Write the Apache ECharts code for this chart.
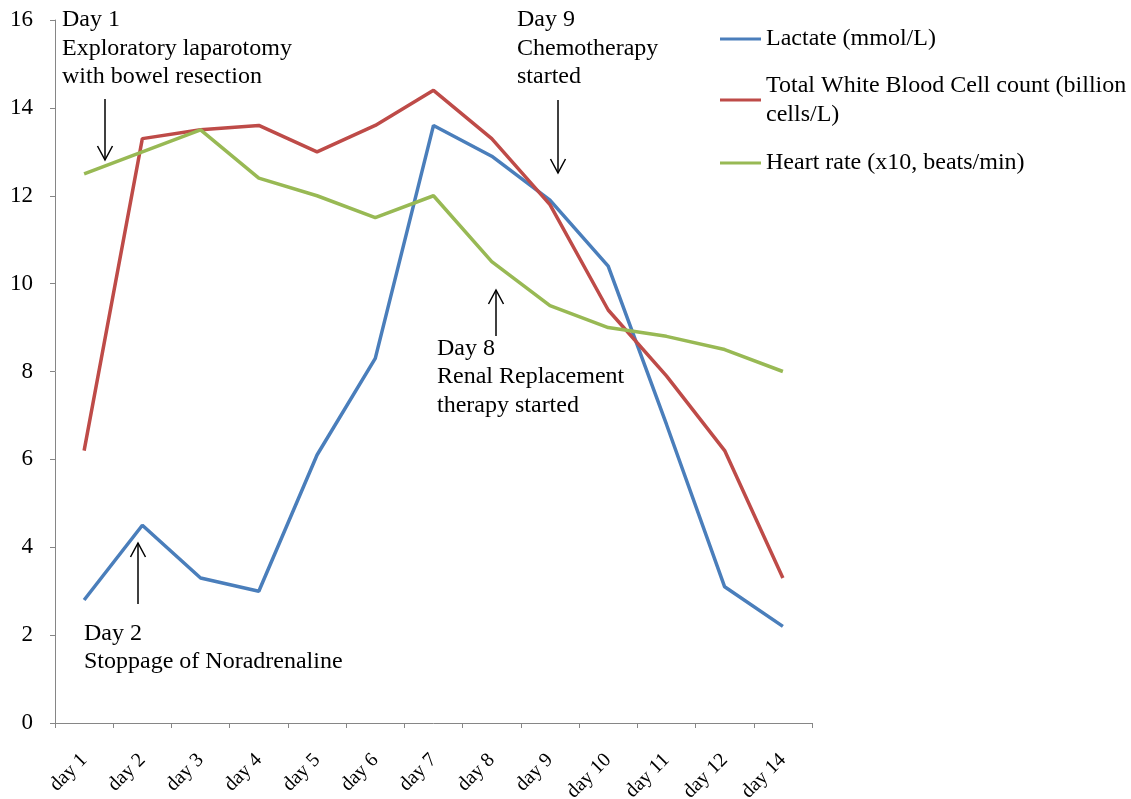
<!DOCTYPE html>
<html>
<head>
<meta charset="utf-8">
<script src="https://cdn.jsdelivr.net/npm/echarts@6/dist/echarts.min.js"></script>
<style>html,body{margin:0;padding:0;background:#fff}#c{width:1131px;height:799px}</style>
</head>
<body>
<div id="c"></div>
<script>
var categories = ['day 1','day 2','day 3','day 4','day 5','day 6','day 7','day 8','day 9','day 10','day 11','day 12','day 14'];
var lactate = [2.8, 4.5, 3.3, 3.0, 6.1, 8.3, 13.6, 12.9, 11.9, 10.4, 6.8, 3.1, 2.2];
var wbc = [6.2, 13.3, 13.5, 13.6, 13.0, 13.6, 14.4, 13.3, 11.8, 9.4, 7.9, 6.2, 3.3];
var heartRate = [12.5, 13.0, 13.5, 12.4, 12.0, 11.5, 12.0, 10.5, 9.5, 9.0, 8.8, 8.5, 8.0];
var seriesNames = ['Lactate (mmol/L)', 'Total White Blood Cell count (billion\ncells/L)', 'Heart rate (x10, beats/min)'];
var yTicks = {min: 0, max: 16, interval: 2};

var FONT = '"Liberation Serif", "Times New Roman", serif';
var FS = 24;
var LH = 28.5;
var colors = ['#4A7EBB', '#BE4B48', '#98B954'];

function arrow(x, y1, y2) {
  var dir = y2 > y1 ? -1 : 1;
  return [
    {type: 'line', shape: {x1: x, y1: y1, x2: x, y2: y2}, style: {stroke: '#000', lineWidth: 1.5}},
    {type: 'polyline', shape: {points: [[x - 7.5, y2 + dir * 14], [x, y2], [x + 7.5, y2 + dir * 14]]}, style: {stroke: '#000', lineWidth: 1.5, fill: null}}
  ];
}
function note(x, top, txt) {
  return {type: 'text', x: x, y: top, style: {text: txt, font: FS + 'px ' + FONT, lineHeight: LH, fill: '#000', verticalAlign: 'top', align: 'left'}};
}

var graphics = [
  note(62, 5.75, 'Day 1\nExploratory laparotomy\nwith bowel resection'),
  note(517, 5.75, 'Day 9\nChemotherapy\nstarted'),
  note(437, 334, 'Day 8\nRenal Replacement\ntherapy started'),
  note(84, 619, 'Day 2\nStoppage of Noradrenaline')
].concat(arrow(105, 99, 160), arrow(558, 100, 173), arrow(496, 336, 290), arrow(138, 604, 543));

function legendFor(name, top, pad) {
  return {
    data: [name], orient: 'vertical', left: 720, top: top, padding: 0,
    icon: 'rect', itemWidth: 41, itemHeight: 3,
    textStyle: {fontFamily: FONT, fontSize: FS, color: '#000', lineHeight: 29, padding: pad}
  };
}

var chart = echarts.init(document.getElementById('c'));
chart.setOption({
  animation: false,
  backgroundColor: '#fff',
  color: colors,
  grid: {left: 55, right: 319, top: 20, bottom: 76, containLabel: false, outerBoundsMode: 'none'},
  legend: [
    legendFor(seriesNames[0], 24.5, 0),
    legendFor(seriesNames[1], 56.5, [29, 0, 0, 0]),
    legendFor(seriesNames[2], 148.5, 0)
  ],
  xAxis: {
    type: 'category', data: categories, boundaryGap: true,
    axisLine: {lineStyle: {color: '#868686', width: 1}},
    axisTick: {show: true, alignWithLabel: false, interval: 0, length: 5, lineStyle: {color: '#868686'}},
    axisLabel: {interval: 0, rotate: 45, margin: 34, fontFamily: FONT, fontSize: 20, color: '#000'},
    splitLine: {show: false}
  },
  yAxis: {
    type: 'value', min: yTicks.min, max: yTicks.max, interval: yTicks.interval,
    axisLine: {show: true, lineStyle: {color: '#868686', width: 1}},
    axisTick: {show: true, length: 5, lineStyle: {color: '#868686'}},
    axisLabel: {margin: 22, fontFamily: FONT, fontSize: 23, color: '#000'},
    splitLine: {show: false}
  },
  series: [
    {name: seriesNames[0], type: 'line', data: lactate, symbol: 'none', lineStyle: {width: 3.5, color: colors[0]}, itemStyle: {color: colors[0]}},
    {name: seriesNames[1], type: 'line', data: wbc, symbol: 'none', lineStyle: {width: 3.5, color: colors[1]}, itemStyle: {color: colors[1]}},
    {name: seriesNames[2], type: 'line', data: heartRate, symbol: 'none', lineStyle: {width: 3.5, color: colors[2]}, itemStyle: {color: colors[2]}}
  ],
  graphic: graphics
});
</script>
</body>
</html>
